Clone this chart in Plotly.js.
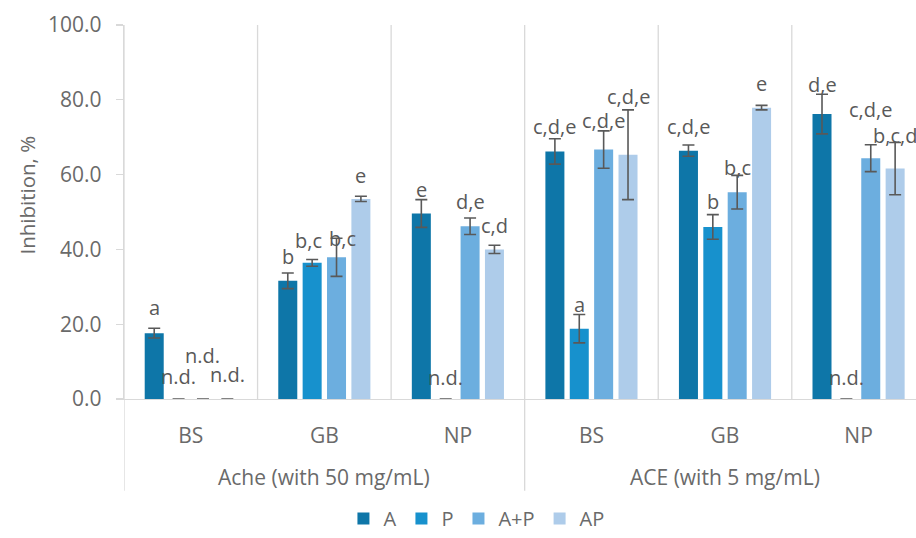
<!DOCTYPE html>
<html>
<head>
<meta charset="utf-8">
<script src="https://cdn.plot.ly/plotly-3.0.1.min.js"></script>
<style>html,body{margin:0;padding:0;background:#fff;}#chart{width:916px;height:538px;}</style>
</head>
<body>
<div id="chart"></div>
<script>
// ---- data ----
var categories = ['BS', 'GB', 'NP', 'BS', 'GB', 'NP'];
var groupNames = ['Ache (with 50 mg/mL)', 'ACE (with 5 mg/mL)'];
var seriesNames = ['A', 'P', 'A+P', 'AP'];

var valA   = [17.6, 31.6, 49.6, 66.2, 66.4, 76.2];
var errA   = [1.3, 2.1, 3.7, 3.4, 1.5, 5.3];
var valP   = [0, 36.4, 0, 18.8, 46.0, 0];
var errP   = [0, 0.9, 0, 3.8, 3.3, 0];
var valAP_ = [0, 37.9, 46.2, 66.7, 55.3, 64.4];   // A+P
var errAP_ = [0, 5.1, 2.2, 5.0, 4.5, 3.6];
var valAP  = [0, 53.5, 40.0, 65.3, 77.9, 61.6];   // AP
var errAP  = [0, 0.7, 1.1, 12.0, 0.6, 7.0];

var lblA   = ['a', 'b', 'e', 'c,d,e', 'c,d,e', 'd,e'];
var lblP   = ['n.d.', 'b,c', 'n.d.', 'a', 'b', 'n.d.'];
var lblAP_ = ['n.d.', 'b,c', 'd,e', 'c,d,e', 'b,c', 'c,d,e'];
var lblAP  = ['n.d.', 'e', 'c,d', 'c,d,e', 'e', 'b,c,d'];

// ---- styling / layout ----
var colors = ['#0E76A8', '#1791CD', '#6CAEDF', '#AECCEA'];
var values = [valA, valP, valAP_, valAP];
var errors = [errA, errP, errAP_, errAP];
var labels = [lblA, lblP, lblAP_, lblAP];
// label lift above bar top, in px
var lift = [
  [26, 24, 24, 25, 24, 30],
  [23, 22, 22, 24, 25, 22],
  [44, 19, 25, 29, 25, 49],
  [25, 23, 24, 58, 24, 33]
];
// small horizontal nudges, px
var nudge = [
  [0, 0, 0, 0, 0, 0],
  [0, -4, 0, 0, 0, 0],
  [0, 6, 0, 0, 0, 0],
  [0, 0, 0, 0, 0, 0]
];
var bargap = 0.27, bargroupgap = 0.22;
var slot = (1 - bargap) / 4;
var xs = categories.map(function (_, i) { return i; });
var FONT = 'Open Sans';
var TXT = '#6a6a6a';

var traces = seriesNames.map(function (name, s) {
  return {
    type: 'bar', name: name, x: xs, y: values[s],
    marker: {color: colors[s], line: {width: 0}},
    error_y: {type: 'data', array: errors[s], visible: true, color: '#595959', thickness: 1.6, width: 6},
    hoverinfo: 'skip'
  };
});

var annotations = [];
seriesNames.forEach(function (name, s) {
  labels[s].forEach(function (t, i) {
    annotations.push({
      x: i + (s - 1.5) * slot, y: values[s][i], xref: 'x', yref: 'y',
      text: t, showarrow: false, yshift: lift[s][i], xshift: nudge[s][i],
      yanchor: 'middle', xanchor: 'center',
      font: {family: FONT, size: 20, color: '#595959'}
    });
  });
});
groupNames.forEach(function (g, k) {
  annotations.push({
    x: 1 + 3 * k, y: -0.208, xref: 'x', yref: 'paper', text: g, showarrow: false,
    yanchor: 'middle', xanchor: 'center', font: {family: FONT, size: 21, color: TXT}
  });
});
annotations.push({
  x: -0.122, y: 0.545, xref: 'paper', yref: 'paper', text: 'Inhibition, %', textangle: -90,
  showarrow: false, xanchor: 'center', yanchor: 'middle',
  font: {family: FONT, size: 20.5, color: TXT}
});

var shapes = [];
[0.5, 1.5, 3.5, 4.5].forEach(function (b) {
  shapes.push({type: 'line', xref: 'x', yref: 'paper', x0: b, x1: b, y0: 0, y1: 1,
    line: {color: '#d9d9d9', width: 1.3}, layer: 'below'});
});
[-0.5, 2.5].forEach(function (b) {
  shapes.push({type: 'line', xref: 'x', yref: 'paper', x0: b, x1: b, y0: -0.245, y1: 1,
    line: {color: '#d9d9d9', width: 1.3}, layer: 'below'});
});

var layout = {
  width: 916, height: 538,
  margin: {l: 124, r: 0, t: 25, b: 138},
  paper_bgcolor: '#fff', plot_bgcolor: '#fff',
  barmode: 'group', bargap: bargap, bargroupgap: bargroupgap,
  font: {family: FONT, color: TXT},
  xaxis: {
    range: [-0.5, 5.43], tickvals: xs, ticktext: categories, showgrid: false, zeroline: false,
    showline: true, linecolor: '#d9d9d9', linewidth: 1.3, ticks: '', ticklabelstandoff: 17,
    tickfont: {family: FONT, size: 21, color: TXT}, fixedrange: true
  },
  yaxis: {
    range: [0, 100], tickvals: [0, 20, 40, 60, 80, 100], tickformat: '.1f', showgrid: false, zeroline: false,
    showline: true, linecolor: '#d9d9d9', linewidth: 1.3, ticks: 'outside', ticklen: 7, tickcolor: '#d9d9d9',
    tickwidth: 1.3, ticklabelstandoff: 10,
    tickfont: {family: FONT, size: 21, color: TXT}, fixedrange: true
  },
  showlegend: true,
  legend: {orientation: 'h', x: 0.445, xanchor: 'center', y: -0.32, yanchor: 'middle',
    font: {family: FONT, size: 20, color: TXT}, itemwidth: 30, traceorder: 'normal'},
  annotations: annotations,
  shapes: shapes
};

Plotly.newPlot('chart', traces, layout, {staticPlot: true, displayModeBar: false});
</script>
</body>
</html>
